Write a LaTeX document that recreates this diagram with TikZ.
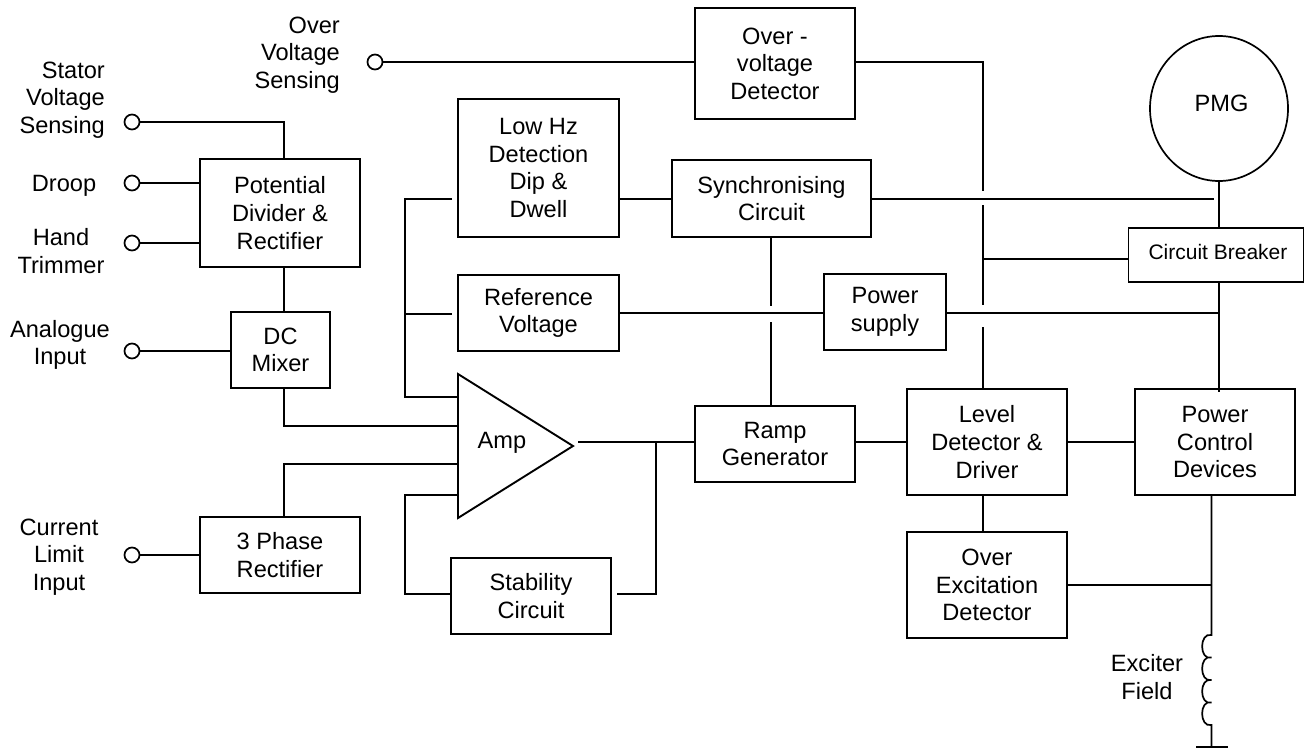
\documentclass[tikz,border=0pt]{standalone}
\usepackage{fontspec}
\usetikzlibrary{shapes.geometric}
\setmainfont{Liberation Sans}
\newcommand{\txtf}{\fontsize{23.6}{27.6}\selectfont}
\tikzset{
  x=1pt,y=-1pt,
  wire/.style={line width=1.7pt,line join=miter,black},
  box/.style={draw,line width=1.9pt,inner sep=0pt,align=center,font=\txtf},
  lbl/.style={inner sep=0pt,align=center,font=\txtf},
  lblr/.style={inner sep=0pt,align=right,anchor=east,font=\txtf},
  term/.style={draw,circle,line width=1.7pt,minimum size=15pt,inner sep=0pt,fill=white},
}
\newcommand{\bx}[7]{\node[box,minimum width=#4pt,minimum height=#5pt,#6] (#1) at (#2,#3) {#7};}
\begin{document}
\begin{tikzpicture}
\useasboundingbox (0,0) rectangle (1308,749);
% boxes
\bx{ovd}{775}{63.5}{160}{111}{}{Over -\\voltage\\Detector}
\bx{lowhz}{538.5}{168}{161}{138}{}{Low Hz\\Detection\\Dip \&\\Dwell}
\bx{refv}{538.5}{313}{161}{76}{}{Reference\\Voltage}
\bx{sync}{771.5}{198.5}{199}{77}{}{Synchronising\\Circuit}
\bx{psu}{885}{312}{122}{76}{}{Power\\supply}
\bx{cb}{1216}{255}{175}{54}{}{}
\bx{ramp}{775}{444}{160}{76}{}{Ramp\\Generator}
\bx{level}{987}{442}{160}{106}{}{Level\\Detector \&\\Driver}
\bx{pcd}{1215}{442}{160}{106}{}{Power\\Control\\Devices}
\bx{oex}{987}{585}{160}{106}{}{Over\\Excitation\\Detector}
\bx{pdr}{280}{213}{160}{108}{}{Potential\\Divider \&\\Rectifier}
\bx{dcm}{280.5}{350}{99}{76}{}{DC\\Mixer}
\bx{rect}{280}{555}{160}{76}{}{3 Phase\\Rectifier}
\bx{stab}{531}{596}{160}{76}{}{Stability\\Circuit}
\node[lbl,font=\fontsize{21}{24}\selectfont] (cbt) at (1218,252) {Circuit Breaker};
\node[draw,ellipse,line width=1.7pt,minimum width=138pt,minimum height=145pt,inner sep=0pt] (pmg) at (1219,108.5) {};
\node[lbl] (pmgt) at (1221.5,103.5) {PMG};
% amplifier
\coordinate (ampa) at (458,374);
\coordinate (ampb) at (458,518);
\coordinate (ampc) at (573,446);
\draw[line width=1.9pt,line join=miter] (ampa) -- (ampc) -- (ampb) -- cycle;
\node[lbl] (amp) at (502,443) {Amp};
% terminals
\node[term] (t1) at (132,122) {};
\node[term] (t2) at (132,183) {};
\node[term] (t3) at (132,243) {};
\node[term] (t4) at (132,351) {};
\node[term] (t5) at (132,555) {};
\node[term] (t6) at (375,62) {};
% labels
\node[lblr] (l1) at (105,100) {Stator\\Voltage\\Sensing};
\node[lbl] (l2) at (64,186) {Droop};
\node[lbl] (l3) at (61,251) {Hand\\Trimmer};
\node[lbl] (l4) at (60,345) {Analogue\\Input};
\node[lbl] (l5) at (59,557) {Current\\Limit\\Input};
\node[lblr] (l6) at (340,55) {Over\\Voltage\\Sensing};
\node[lbl] (l7) at (1147,677) {Exciter\\Field};
% junction helpers
\coordinate (xa) at (284,0);
\coordinate (xb) at (405,0);
\coordinate (xc) at (656,0);
\coordinate (xd) at (983,0);
\coordinate (xe) at (1219,0);
\coordinate (xf) at (1211.5,0);
\coordinate (ym) at (0,313);
\coordinate (ys) at (0,199);
% left side
\draw[wire] (t1) -- (xa |- t1) -- (xa |- pdr.north);
\draw[wire] (t2) -- (pdr.west |- t2);
\draw[wire] (t3) -- (pdr.west |- t3);
\draw[wire] (xa |- pdr.south) -- (xa |- dcm.north);
\draw[wire] (t4) -- (dcm.west |- t4);
\coordinate (ia) at (458,426);
\coordinate (ib) at (458,464);
\coordinate (ic) at (458,397);
\coordinate (id) at (458,495);
\draw[wire] (xa |- dcm.south) -- (xa |- ia) -- (ia);
\draw[wire] (xa |- rect.north) -- (xa |- ib) -- (ib);
\draw[wire] (t5) -- (rect.west |- t5);
% bus left of amp
\coordinate (ga) at (452,199);
\coordinate (gb) at (452,314);
\coordinate (gc) at (617,594);
\draw[wire] (ga) -- (xb |- ga) -- (xb |- ic) -- (ic);
\draw[wire] (xb |- gb) -- (gb);
\draw[wire] (id) -- (xb |- id) -- (xb |- gc) -- (stab.west |- gc);
\coordinate (ao) at (578,442);
\draw[wire] (gc) -- (xc |- gc) -- (xc |- ao);
\draw[wire] (ao) -- (ramp.west |- ao);
% middle
\draw[wire] (lowhz.east |- ys) -- (sync.west |- ys);
\coordinate (gd) at (1214,199);
\draw[wire] (sync.east |- gd) -- (gd);
\draw[wire] (refv.east |- ym) -- (psu.west |- ym);
\coordinate (ge) at (771,306);
\coordinate (gf) at (771,322);
\draw[wire] (sync.south -| ge) -- (ge);
\draw[wire] (gf) -- (ramp.north -| gf);
\draw[wire] (psu.east |- ym) -- (xe |- ym);
\draw[wire] (t6) -- (ovd.west |- t6);
% detector line
\coordinate (gg) at (983,191);
\coordinate (gh) at (983,205);
\coordinate (gi) at (983,305);
\coordinate (gj) at (983,327);
\coordinate (ov) at (855,62);
\coordinate (yc) at (0,259);
\draw[wire] (ov) -- (xd |- ov) -- (gg);
\draw[wire] (gh) -- (gi);
\draw[wire] (gj) -- (level.north -| gj);
\draw[wire] (gi |- yc) -- (cb.west |- yc);
% right
\coordinate (pt) at (1219,392);
\draw[wire] (pmg.south -| xe) -- (cb.north -| xe);
\draw[wire] (cb.south -| xe) -- (pt);
\draw[wire] (ramp.east |- level.west) -- (level.west);
\draw[wire] (level.east) -- (pcd.west);
\draw[wire] (level.south -| xd) -- (oex.north -| xd);
\draw[wire] (oex.east) -- (xf |- oex.east);
% coil
\coordinate (ca) at (1211.5,635);
\coordinate (cb1) at (1211.5,657.5);
\coordinate (cb2) at (1211.5,680);
\coordinate (cb3) at (1211.5,702.5);
\coordinate (cb4) at (1211.5,725);
\coordinate (gnd) at (1211.5,747);
\draw[wire] (pcd.south -| xf) -- (ca)
  .. controls (1199,632) and (1199,661) .. (cb1)
  .. controls (1199,654) and (1199,683) .. (cb2)
  .. controls (1199,677) and (1199,706) .. (cb3)
  .. controls (1199,699) and (1199,728) .. (cb4)
  -- (gnd);
\coordinate (gl) at (1196,747);
\coordinate (gr) at (1228,747);
\draw[line width=2.4pt] (gl) -- (gr);
\end{tikzpicture}
\end{document}
